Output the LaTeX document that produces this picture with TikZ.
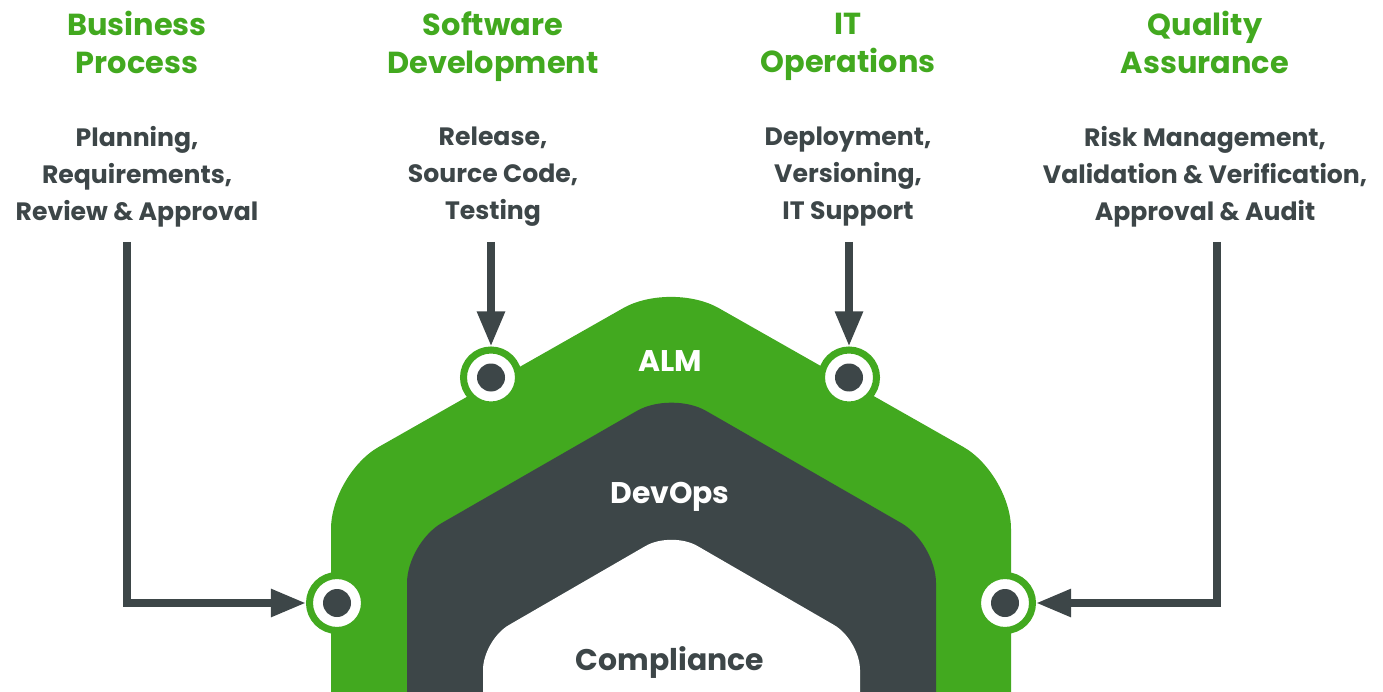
\documentclass[tikz,border=0pt]{standalone}
\usepackage{fontspec}
\setmainfont{Poppins}
\usetikzlibrary{arrows.meta}
\definecolor{almgreen}{HTML}{42A91F}
\definecolor{almdark}{HTML}{3D4648}
\begin{document}
\begin{tikzpicture}[
    head/.style={text=almgreen, font=\fontsize{17.3}{21.6}\selectfont\bfseries, align=center,
        execute at begin node=\strut, execute at end node=\strut},
    task/.style={text=almdark, font=\fontsize{14.3}{21}\selectfont\bfseries, align=center,
        execute at begin node=\strut, execute at end node=\strut},
    layer/.style={anchor=base, font=\fontsize{17}{21}\selectfont\bfseries},
    port/.style={circle, fill=white, draw=almgreen, line width=4pt, minimum size=1.1cm, inner sep=0pt,
        path picture={\fill[almdark] (path picture bounding box.center) circle (0.28);}},
    feed/.style={draw=almdark, line width=4.4pt, -{Triangle[length=20pt,width=15pt]}}
]
    \useasboundingbox (0,0) rectangle (27.66,13.82);
    \clip (0,0) rectangle (27.66,13.82);
    \fill[almgreen, rounded corners=1.1cm] (6.62,-2) -- (6.62,4.34) -- (13.42,8.2) -- (20.22,4.34) -- (20.22,-2) -- cycle;
    \fill[almdark, rounded corners=0.8cm] (8.14,-2) -- (8.14,2.96) -- (13.43,6.0) -- (18.72,2.96) -- (18.72,-2) -- cycle;
    \fill[white, rounded corners=0.6cm] (9.66,-2) -- (9.66,1.02) -- (13.43,3.2) -- (17.2,1.02) -- (17.2,-2) -- cycle;

    \node[layer, text=white] (alm) at (13.40,6.40) {ALM};
    \node[layer, text=white] (devops) at (13.40,3.76) {DevOps};
    \node[layer, text=almdark] (comp) at (13.40,0.42) {Compliance};

    \node[port] (pbp) at (6.74,1.76) {};
    \node[port] (psd) at (9.82,6.27) {};
    \node[port] (pit) at (16.98,6.27) {};
    \node[port] (pqa) at (20.10,1.76) {};

    \node[head] (hbp) at (2.74,12.85) {Business\\Process};
    \node[head] (hsd) at (9.86,12.85) {Software\\Development};
    \node[head] (hit) at (16.96,12.85) {IT\\Operations};
    \node[head] (hqa) at (24.10,12.85) {Quality\\Assurance};

    \node[task] (tbp) at (2.74,10.24) {Planning,\\Requirements,\\Review \& Approval};
    \node[task] (tsd) at (9.86,10.24) {Release,\\Source Code,\\Testing};
    \node[task] (tit) at (16.96,10.24) {Deployment,\\Versioning,\\IT Support};
    \node[task] (tqa) at (24.10,10.24) {Risk Management,\\Validation \& Verification,\\Approval \& Audit};

    \coordinate (sbp) at (2.54,8.98);
    \coordinate (ssd) at (9.82,8.98);
    \coordinate (sit) at (16.98,8.98);
    \coordinate (sqa) at (24.34,8.98);
    \draw[feed] (sbp) |- (pbp);
    \draw[feed] (ssd) -- (psd);
    \draw[feed] (sit) -- (pit);
    \draw[feed] (sqa) |- (pqa);
\end{tikzpicture}
\end{document}
